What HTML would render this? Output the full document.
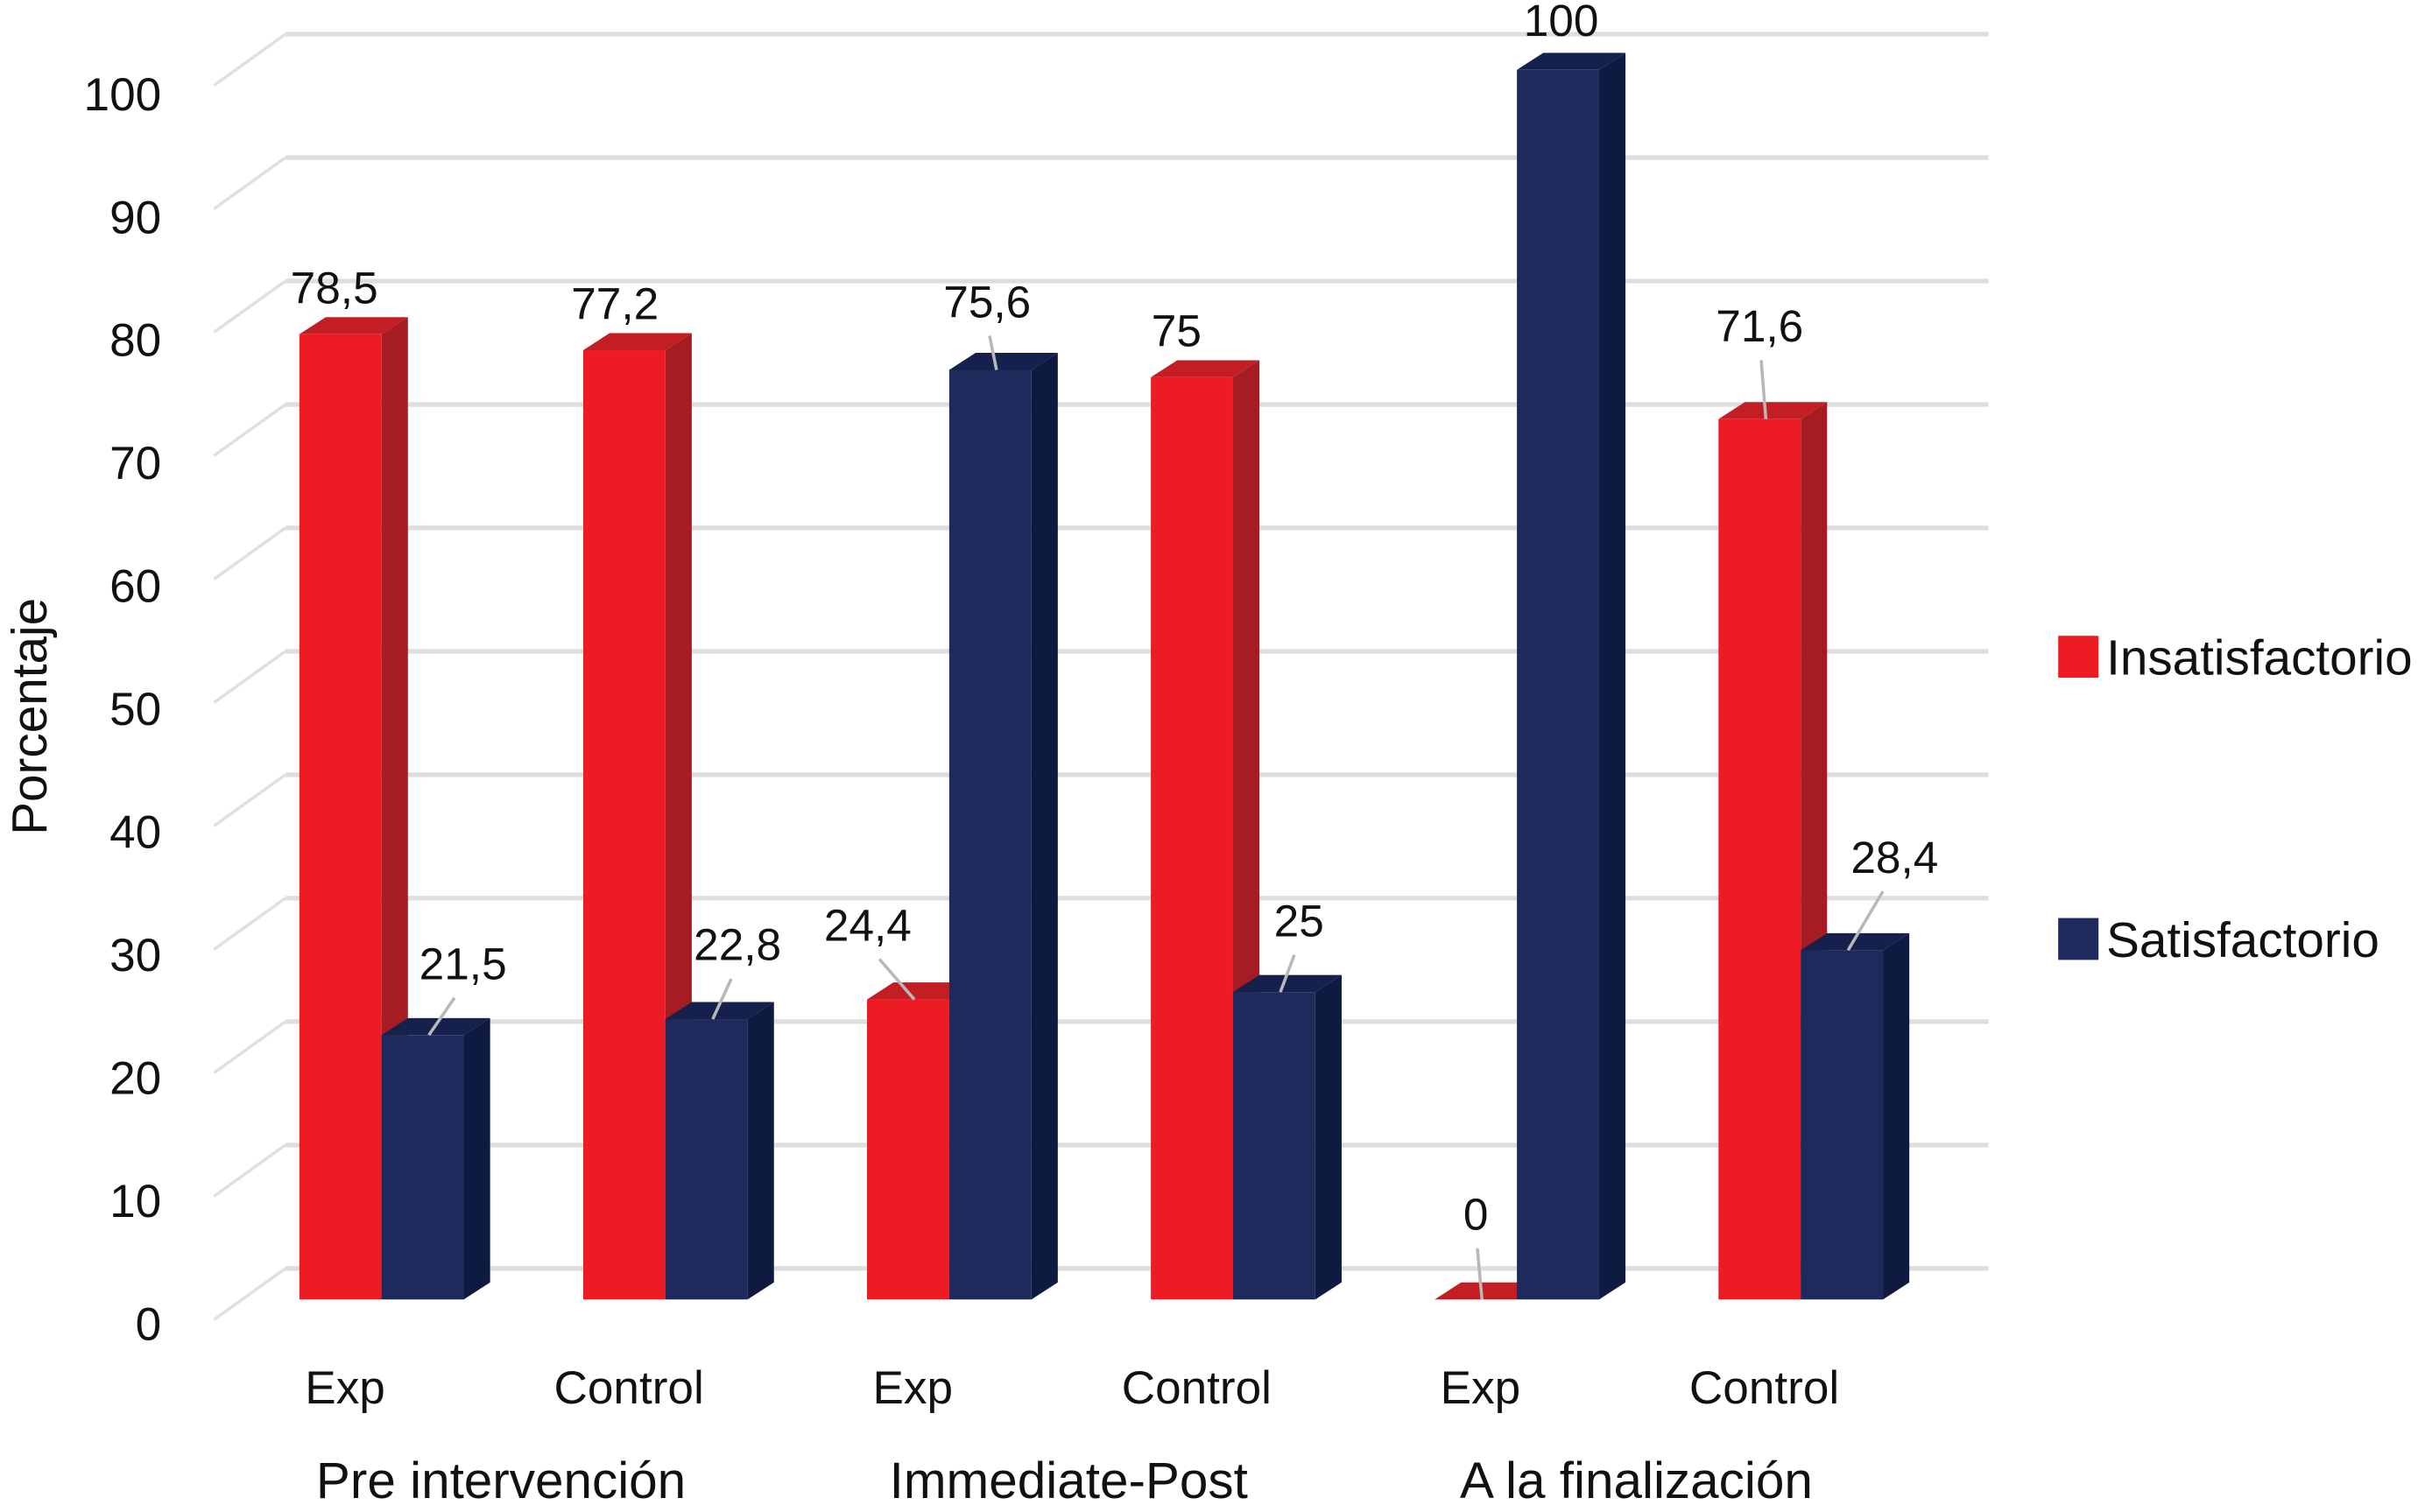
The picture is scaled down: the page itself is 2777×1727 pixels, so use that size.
<!DOCTYPE html>
<html><head><meta charset="utf-8"><style>
html,body{margin:0;padding:0;background:#fff;}
svg{display:block;}
text{font-family:"Liberation Sans",Arial,sans-serif;fill:#111;}
</style></head><body>
<svg id="chart" width="2777" height="1727" viewBox="0 0 1568 975" xmlns="http://www.w3.org/2000/svg">
<g id="grid"></g>
<g id="yticks"></g>
<g id="bars"></g>
<g id="labels"></g>
<g id="xlabels"></g>
<text transform="translate(30,462) rotate(-90)" text-anchor="middle" font-size="32">Porcentaje</text>
<g>
<rect x="1327" y="410" width="26" height="27" fill="#ed1c24"/>
<text x="1358" y="435" font-size="32">Insatisfactorio</text>
<rect x="1327" y="592" width="26" height="27" fill="#1f2a5c"/>
<text x="1358" y="617" font-size="32">Satisfactorio</text>
</g>
</svg>
<script>
const categories = ["Exp","Control","Exp","Control","Exp","Control"];
const groups = ["Pre intervención","Immediate-Post","A la finalización"];
const insatisfactorio = [78.5, 77.2, 24.4, 75, 0, 71.6];
const satisfactorio = [21.5, 22.8, 75.6, 25, 100, 28.4];
const yTicks = [0,10,20,30,40,50,60,70,80,90,100];

// layout (not data)
const NS = "http://www.w3.org/2000/svg";
const y0Front = 838, pxPerUnit = 7.93, y0Back = 818, backPx = 7.96;
const barW = 53, dX = 17, dY = 11, firstX = 193, catStep = 183;
const yF = v => y0Front - v * pxPerUnit;
const yB = v => y0Back - v * backPx;
const xCat = i => firstX + i * catStep;
function mk(tag, attrs, parent){const e=document.createElementNS(NS,tag);for(const k in attrs)e.setAttribute(k,attrs[k]);parent.appendChild(e);return e;}
function fmt(v){return String(v).replace('.',',');}

const grid = document.getElementById('grid');
const yt = document.getElementById('yticks');
yTicks.forEach(t=>{
  const yb = yB(t);
  const l1 = mk('line',{x1:138,y1:yb+33,x2:184,y2:yb,stroke:'#e0e0e0','stroke-width':2},grid);
  
  
  const l2 = mk('line',{x1:184,y1:yb,x2:1282,y2:yb,stroke:'#dedede','stroke-width':3},grid);
  
  
  const tx = mk('text',{x:104,y:yF(t)+26,'text-anchor':'end','font-size':30},yt);
  tx.textContent = t;
  
  
});

const bars = document.getElementById('bars');
function bar(x, v, front, top, side, name){
  const g = mk('g',{},bars);
  
  
  const yt2 = yF(v);
  mk('polygon',{points:`${x+barW},${yt2} ${x+barW+dX},${yt2-dY} ${x+barW+dX},${y0Front-dY} ${x+barW},${y0Front}`,fill:side},g);
  mk('polygon',{points:`${x},${yt2} ${x+dX},${yt2-dY} ${x+barW+dX},${yt2-dY} ${x+barW},${yt2}`,fill:top},g);
  mk('rect',{x:x,y:yt2,width:barW,height:y0Front-yt2,fill:front},g);
}
categories.forEach((c,i)=>{
  bar(xCat(i), insatisfactorio[i], '#ed1c24', '#c41e25', '#a51d22', 'bar-insatisfactorio-'+i);
  bar(xCat(i)+barW, satisfactorio[i], '#1f2a5c', '#15204c', '#0f1a40', 'bar-satisfactorio-'+i);
});

// label offsets relative to bar top-center (layout only)
const redOff = [[-8,-20,false],[-10,-20,false],[-30,-38,true],[-14,-20,false],[-4,-45,true],[-4,-50,true]];
const blueOff = [[22,-36,true],[16,-38,true],[-6,-34,true],[12,-36,true],[-2,-22,false],[30,-50,true]];
const labels = document.getElementById('labels');
function label(cx, v, off, name){
  const top = yF(v);
  if(off[2]){
    const ln = mk('line',{x1:cx,y1:top,x2:cx+off[0]*0.75,y2:top+off[1]+12,stroke:'#b8b8b8','stroke-width':2},labels);
    
    
  }
  const t = mk('text',{x:cx+off[0],y:top+off[1],'text-anchor':'middle','font-size':29},labels);
  t.textContent = fmt(v);
  
  
}
categories.forEach((c,i)=>{
  label(xCat(i)+barW/2+4, insatisfactorio[i], redOff[i], 'value-label-insatisfactorio-'+i);
  label(xCat(i)+barW*1.5+4, satisfactorio[i], blueOff[i], 'value-label-satisfactorio-'+i);
});

const xl = document.getElementById('xlabels');
categories.forEach((c,i)=>{
  const t = mk('text',{x:xCat(i)+barW/2+3,y:905,'text-anchor':'middle','font-size':30},xl);
  t.textContent = c;
  
  
});
groups.forEach((g,i)=>{
  const t = mk('text',{x:xCat(2*i)+130,y:966,'text-anchor':'middle','font-size':33},xl);
  t.textContent = g;
  
  
});
</script>
</body></html>
